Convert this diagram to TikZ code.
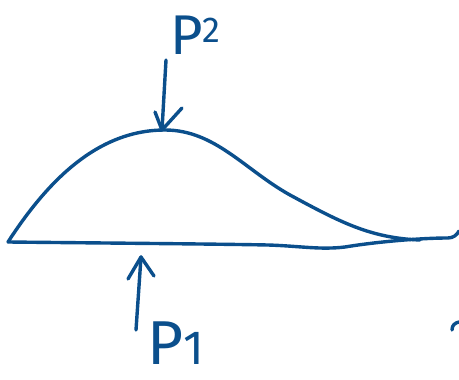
\documentclass[tikz,border=0pt]{standalone}
\usepackage{fontspec}
\setmainfont{Fira Sans}
\definecolor{ink}{HTML}{0B4F8C}
\tikzset{
  stroke/.style={draw=ink, line width=3.4pt, line cap=round, line join=round},
  label/.style={text=ink, inner sep=0pt, anchor=base west},
}
\begin{document}
\begin{tikzpicture}[x=1pt,y=-1pt]
\useasboundingbox (0,0) rectangle (459,380);
% baseline
\coordinate (L) at (8,242);
\coordinate (R) at (459,231);
\draw[stroke] (L) .. controls (100,243) and (220,244) .. (268,245)
  .. controls (300,246) and (320,250) .. (345,247)
  .. controls (375,242) and (420,238) .. (448,238)
  .. controls (453,238) and (457,235) .. (R);
% hump
\coordinate (peak) at (165,130);
\draw[stroke] (L) .. controls (45,185) and (95,130) .. (peak)
  .. controls (215,130) and (245,170) .. (290,195)
  .. controls (340,222) and (370,238) .. (420,240);
% P2 arrow
\coordinate (a2s) at (166,60);
\coordinate (a2e) at (162,130);
\draw[stroke] (a2s) -- (a2e);
\draw[stroke] (155,112) -- (a2e) -- (182,108);
% P1 arrow
\coordinate (a1s) at (136,330);
\coordinate (a1e) at (141,257);
\draw[stroke] (a1s) -- (a1e);
\draw[stroke] (128,279) -- (a1e) -- (154,276);
% labels
\node[label] (P2) at (170,54) {\fontsize{56}{58}\selectfont P\raisebox{12pt}{\fontsize{36}{36}\selectfont 2}};
\node[label] (P1) at (147,364) {\fontsize{62}{64}\selectfont P\fontsize{48}{48}\selectfont 1};
% right edge fragment
\draw[stroke] (452,330) .. controls (452,325) and (455,323) .. (459,322);
\end{tikzpicture}
\end{document}
